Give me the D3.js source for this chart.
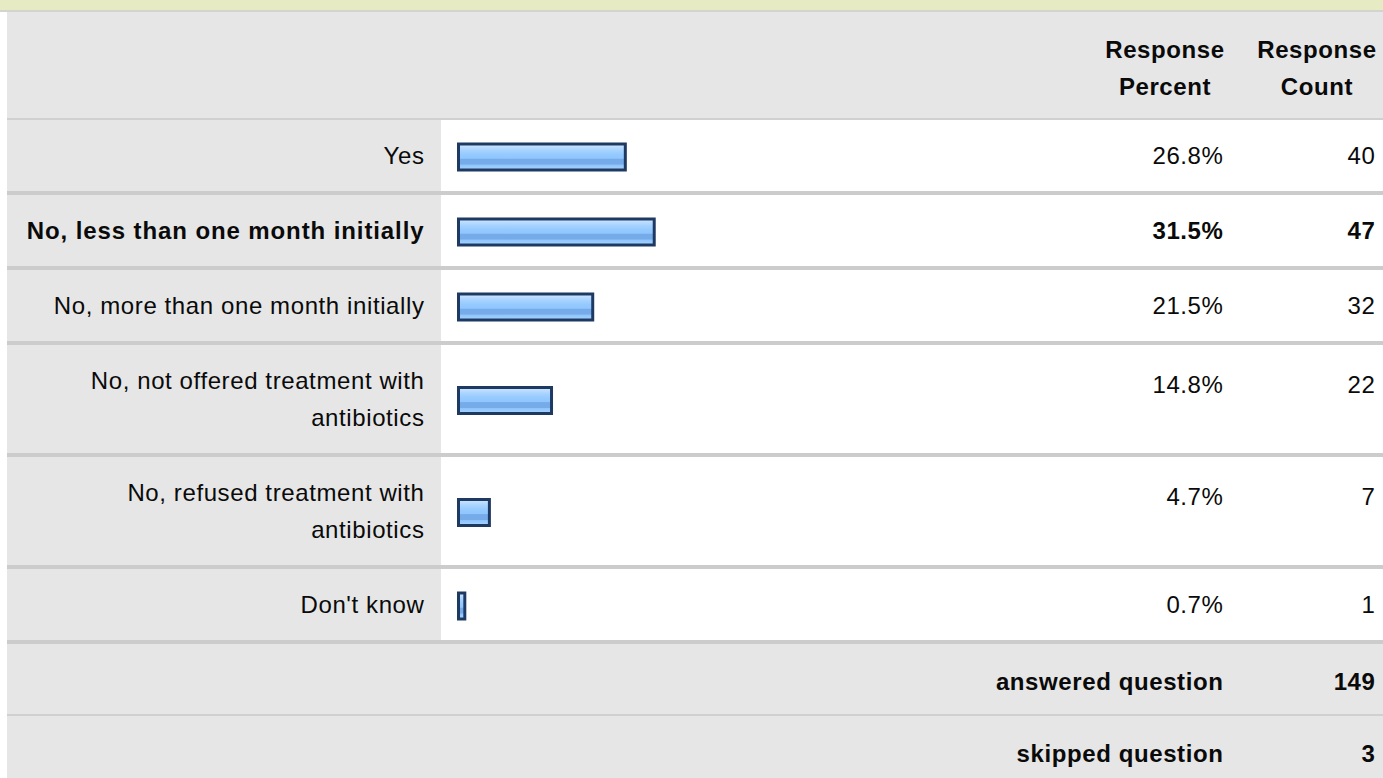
<!DOCTYPE html>
<html><head><meta charset="utf-8">
<script src="https://cdn.jsdelivr.net/npm/d3@7"></script>
<style>
html,body{margin:0;padding:0;background:#fff;}
svg{display:block;}
text{font-family:"Liberation Sans",Arial,Helvetica,sans-serif;font-size:24px;letter-spacing:0.6px;fill:#0a0a0a;}
text.boldlabel{letter-spacing:0.9px;}
</style></head>
<body>
<svg id="chart"></svg>
<script>
// ---- data ----
const categories = [
  ["Yes"],
  ["No, less than one month initially"],
  ["No, more than one month initially"],
  ["No, not offered treatment with", "antibiotics"],
  ["No, refused treatment with", "antibiotics"],
  ["Don't know"]
];
const percents = [26.8, 31.5, 21.5, 14.8, 4.7, 0.7];
const counts = [40, 47, 32, 22, 7, 1];
const headerPercent = ["Response", "Percent"];
const headerCount = ["Response", "Count"];
const summaryLabels = ["answered question", "skipped question"];
const summaryValues = [149, 3];

// ---- layout ----
const W = 1383, H = 778;
const left = 7, labelRight = 441, barX0 = 457;
const pctRight = 1223.5, cntRight = 1375.5;
const pctCenter = 1165, cntCenter = 1317;
const lineH = 37;

const svg = d3.select("#chart").attr("width", W).attr("height", H);

const x = d3.scaleLinear().domain([0, 100]).range([0, 615]);

// gradient for bars
const defs = svg.append("defs");
const g = defs.append("linearGradient").attr("id", "barGrad")
  .attr("x1", 0).attr("y1", 0).attr("x2", 0).attr("y2", 1);
[[0, "#d2e8ff"], [0.12, "#bcdcff"], [0.25, "#a6d2ff"], [0.4, "#95caff"], [0.55, "#90c6fd"],
 [0.58, "#76abea"], [0.78, "#76abea"], [0.8, "#8ec4fb"], [1, "#a9d3ff"]]
  .forEach(([o, c]) => g.append("stop").attr("offset", o).attr("stop-color", c));

// top band
svg.append("rect").attr("x", 0).attr("y", 0).attr("width", W).attr("height", 10).attr("fill", "#e6ebc3");
svg.append("rect").attr("x", 0).attr("y", 10).attr("width", W).attr("height", 2).attr("fill", "#d3d3cf");

// header
svg.append("rect").attr("x", left).attr("y", 12).attr("width", W - left).attr("height", 106).attr("fill", "#e6e6e6");
svg.append("rect").attr("x", left).attr("y", 118).attr("width", W - left).attr("height", 2).attr("fill", "#d0d0d0");
[[headerPercent, pctCenter], [headerCount, cntCenter]].forEach(([lines, cx]) => {
  lines.forEach((t, i) => {
    svg.append("text").attr("x", cx).attr("y", 58 + i * lineH)
      .attr("text-anchor", "middle").attr("font-weight", "bold").text(t);
  });
});

// rows
const maxP = d3.max(percents);
let y = 120;
const rows = categories.map((lines, i) => {
  const h = 71 + lineH * (lines.length - 1);
  const r = { i, lines, y, h, p: percents[i], c: counts[i] };
  y += h + 4;
  return r;
});

const rowG = svg.selectAll("g.row").data(rows).join("g").attr("class", "row");
rowG.append("rect").attr("x", left).attr("y", d => d.y).attr("width", labelRight - left).attr("height", d => d.h).attr("fill", "#e6e6e6");
rowG.append("rect").attr("x", labelRight).attr("y", d => d.y).attr("width", W - labelRight).attr("height", d => d.h).attr("fill", "#ffffff");
rowG.append("rect").attr("x", left).attr("y", d => d.y + d.h).attr("width", W - left).attr("height", 4).attr("fill", "#cccccc");

rowG.each(function (d) {
  const gg = d3.select(this);
  const bold = d.p === maxP;
  const cy = d.y + d.h / 2;
  const n = d.lines.length;
  d.lines.forEach((t, k) => {
    gg.append("text").attr("class", bold ? "boldlabel" : null)
      .attr("x", labelRight - 16.5).attr("y", cy + 8.5 - (n - 1) * lineH / 2 + k * lineH)
      .attr("text-anchor", "end").attr("font-weight", bold ? "bold" : null).text(t);
  });
  const vy = n > 1 ? cy - 6.5 : cy + 8.5;
  gg.append("text").attr("x", pctRight).attr("y", vy).attr("text-anchor", "end")
    .attr("font-weight", bold ? "bold" : null).text(d.p.toFixed(1) + "%");
  gg.append("text").attr("x", cntRight).attr("y", vy).attr("text-anchor", "end")
    .attr("font-weight", bold ? "bold" : null).text(d.c);
  // bar
  gg.append("rect").attr("x", barX0 + 1.5).attr("y", cy + 1.5 - 13)
    .attr("width", x(d.p) + 2).attr("height", 26)
    .attr("fill", "url(#barGrad)").attr("stroke", "#1f3a62").attr("stroke-width", 3);
});

// summary rows
let sy = y;
summaryLabels.forEach((lab, i) => {
  svg.append("rect").attr("x", left).attr("y", sy).attr("width", W - left).attr("height", 70).attr("fill", "#e6e6e6");
  if (i === 0) svg.append("rect").attr("x", left).attr("y", sy + 70).attr("width", W - left).attr("height", 2).attr("fill", "#d0d0d0");
  svg.append("text").attr("x", pctRight).attr("y", sy + 35 + 11).attr("text-anchor", "end").attr("font-weight", "bold").text(lab);
  svg.append("text").attr("x", cntRight).attr("y", sy + 35 + 11).attr("text-anchor", "end").attr("font-weight", "bold").text(summaryValues[i]);
  sy += 72;
});
</script>
</body></html>
